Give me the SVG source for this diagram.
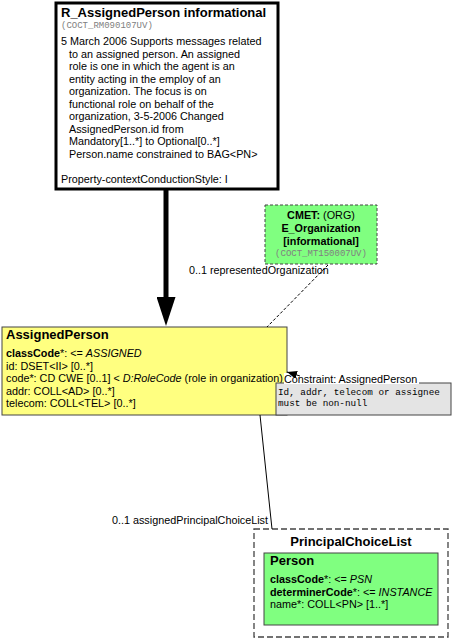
<svg xmlns="http://www.w3.org/2000/svg" width="452" height="638" viewBox="0 0 452 638">
<style>
.t{font-family:"Liberation Sans",Arial,sans-serif;font-size:10.8px;fill:#000}
.b{font-weight:bold}
.h{font-family:"Liberation Sans",Arial,sans-serif;font-size:13px;font-weight:bold;fill:#000}
.m{font-family:"Liberation Mono","Courier New",monospace;font-size:9px;fill:#808080}
.n{font-family:"Liberation Mono","Courier New",monospace;font-size:9.3px;fill:#000}
</style>
<defs>
<marker id="big" viewBox="0 0 29 19" refX="2" refY="9.5" markerWidth="29" markerHeight="19" orient="auto" markerUnits="userSpaceOnUse"><path d="M0,0L29,9.5L0,19z" fill="#000"/></marker>
<marker id="small" viewBox="0 0 10 8" refX="10" refY="4" markerWidth="10" markerHeight="8" orient="auto" markerUnits="userSpaceOnUse"><path d="M0,0L10,4L0,8z" fill="#000"/></marker>
</defs>
<g id="R_AssignedPerson">
<rect x="56" y="3" width="222" height="186" fill="#fff" stroke="#000" stroke-width="3"/>
<text class="h" x="61" y="17">R_AssignedPerson informational</text>
<text class="m" x="61" y="28">(COCT_RM090107UV)</text>
<text class="t" x="61" y="45">5 March 2006 Supports messages related</text>
<text class="t" x="69" y="57.5">to an assigned person. An assigned</text>
<text class="t" x="69" y="70">role is one in which the agent is an</text>
<text class="t" x="69" y="82.5">entity acting in the employ of an</text>
<text class="t" x="69" y="95">organization. The focus is on</text>
<text class="t" x="69" y="107.5">functional role on behalf of the</text>
<text class="t" x="69" y="120">organization, 3-5-2006 Changed</text>
<text class="t" x="69" y="132.5">AssignedPerson.id from</text>
<text class="t" x="69" y="145">Mandatory[1..*] to Optional[0..*]</text>
<text class="t" x="69" y="157.5">Person.name constrained to BAG&lt;PN&gt;</text>
<text class="t" x="61" y="183">Property-contextConductionStyle: I</text>
</g>
<g id="E_Organization">
<rect x="265" y="205" width="112" height="59" fill="#80ff80" stroke="#444" stroke-width="1" stroke-dasharray="3,2"/>
<text class="t" x="321" y="219" text-anchor="middle"><tspan class="b">CMET:</tspan> (ORG)</text>
<text class="t b" x="321" y="232" text-anchor="middle">E_Organization</text>
<text class="t b" x="321" y="245" text-anchor="middle">[informational]</text>
<text class="m" x="321" y="256" text-anchor="middle">(COCT_MT150007UV)</text>
</g>
<g id="AssignedPerson">
<rect x="2" y="327" width="285" height="88" fill="#ffff80" stroke="#444" stroke-width="1"/>
<text class="h" x="6" y="339">AssignedPerson</text>
<text class="t" x="6" y="357"><tspan class="b">classCode</tspan>*: &lt;= <tspan font-style="italic">ASSIGNED</tspan></text>
<text class="t" x="6" y="369.5">id: DSET&lt;II&gt; [0..*]</text>
<text class="t" x="6" y="382">code*: CD CWE [0..1] &lt; <tspan font-style="italic">D:RoleCode</tspan> (role in organization)</text>
<text class="t" x="6" y="394.5">addr: COLL&lt;AD&gt; [0..*]</text>
<text class="t" x="6" y="407">telecom: COLL&lt;TEL&gt; [0..*]</text>
</g>
<g id="Constraint">
<rect x="276" y="383" width="175" height="32" fill="#e4e4e4" stroke="#444" stroke-width="1"/>
<rect x="284" y="373" width="135" height="11" fill="#fff"/>
<text class="t" x="284" y="383">Constraint: AssignedPerson</text>
<text class="n" x="278" y="395">Id, addr, telecom or assignee</text>
<text class="n" x="278" y="406">must be non-null</text>
</g>
<g id="PrincipalChoiceList">
<rect x="254" y="529" width="194" height="108" fill="#fff" stroke="#444" stroke-width="1.3" stroke-dasharray="6,3"/>
<text class="h" x="351" y="546" text-anchor="middle">PrincipalChoiceList</text>
</g>
<g id="Person">
<rect x="264" y="553" width="174" height="72" fill="#80ff80" stroke="#444" stroke-width="1"/>
<text class="h" x="270" y="565">Person</text>
<text class="t" x="270" y="583"><tspan class="b">classCode</tspan>*: &lt;= <tspan font-style="italic">PSN</tspan></text>
<text class="t" x="270" y="596"><tspan class="b">determinerCode</tspan>*: &lt;= <tspan font-style="italic">INSTANCE</tspan></text>
<text class="t" x="270" y="608">name*: COLL&lt;PN&gt; [1..*]</text>
</g>
<g id="connectors">
<line x1="166" y1="190" x2="166" y2="299" stroke="#000" stroke-width="5" marker-end="url(#big)"/>
<line x1="328" y1="265" x2="267" y2="327" stroke="#000" stroke-width="1" stroke-dasharray="3,2"/>
<text class="t" x="189" y="274">0..1 representedOrganization</text>
<line x1="260" y1="415" x2="272" y2="529" stroke="#000" stroke-width="1"/>
<text class="t" x="268" y="524" text-anchor="end">0..1 assignedPrincipalChoiceList</text>
<line x1="300" y1="376" x2="287" y2="372" stroke="#000" stroke-width="1" marker-end="url(#small)"/>
</g>
</svg>
